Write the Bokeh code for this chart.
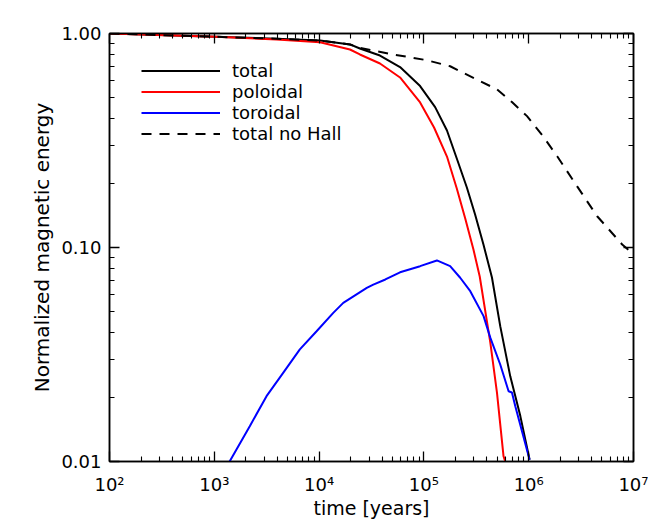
from bokeh.plotting import figure
from bokeh.models import (Range1d, FixedTicker, LogAxis, Legend, LegendItem,
                          PrintfTickFormatter)
from bokeh.embed import file_html
from bokeh.resources import INLINE

# ---- data ----
t_total = [1e2, 1.03e3, 3.93e3, 1.02e4, 1.97e4, 2.45e4, 3.81e4, 5.92e4, 9.2e4,
           1.28e5, 1.66e5, 2.06e5, 2.57e5, 3.08e5, 3.70e5, 4.46e5, 5.35e5,
           6.67e5, 8.32e5, 1.02e6]
e_total = [1.0, 0.965, 0.945, 0.927, 0.889, 0.851, 0.789, 0.697, 0.568,
           0.453, 0.352, 0.2605, 0.1907, 0.1426, 0.1033, 0.0724, 0.0429,
           0.0250, 0.0163, 0.0102]

t_pol = [1e2, 1.03e3, 3.93e3, 1.02e4, 1.97e4, 2.45e4, 3.81e4, 5.92e4, 9.2e4,
         1.25e5, 1.66e5, 2.06e5, 2.48e5, 2.97e5, 3.41e5, 4.30e5, 4.98e5,
         5.75e5, 5.97e5]
e_pol = [1.0, 0.965, 0.937, 0.911, 0.842, 0.798, 0.724, 0.623, 0.476,
         0.3636, 0.266, 0.1887, 0.1366, 0.0979, 0.0732, 0.0360, 0.0210,
         0.0106, 0.0100]

t_tor = [1.40e3, 2.18e3, 3.15e3, 4.54e3, 6.55e3, 9.46e3, 1.365e4, 1.70e4,
         2.85e4, 3.29e4, 4.29e4, 5.92e4, 6.37e4, 9.2e4, 1.33e5, 1.78e5,
         2.22e5, 2.77e5, 3.71e5, 4.30e5, 5.35e5, 6.43e5, 6.92e5, 7.45e5,
         1.02e6]
e_tor = [0.0100, 0.01462, 0.0202, 0.02597, 0.0334, 0.0406, 0.0495, 0.0551,
         0.0648, 0.0671, 0.0709, 0.0766, 0.0775, 0.0818, 0.0870, 0.0818,
         0.0722, 0.0625, 0.0478, 0.0379, 0.0284, 0.0213, 0.0210, 0.0181,
         0.0102]

t_nohall = [1e2, 1.03e3, 3.93e3, 1.02e4, 1.97e4, 2.45e4, 5.11e4, 1.07e5,
            1.78e5, 3.44e5, 4.98e5, 6.92e5, 9.64e5, 1.35e6, 1.87e6, 2.90e6,
            4.50e6, 7.80e6, 1e7]
e_nohall = [1.0, 0.965, 0.945, 0.927, 0.889, 0.857, 0.798, 0.750,
            0.703, 0.599, 0.548, 0.478, 0.411, 0.334, 0.267, 0.193,
            0.140, 0.1033, 0.0932]

x_major = [1e2, 1e3, 1e4, 1e5, 1e6, 1e7]
x_labels = ["10²", "10³", "10⁴", "10⁵", "10⁶", "10⁷"]
y_major = [0.01, 0.1, 1.0]

x_minor = [m * d for d in x_major[:-1] for m in range(2, 10)]
y_minor = [m * d for d in y_major[:-1] for m in range(2, 10)]

FONT = "DejaVu Sans"
FS = "18px"

p = figure(width=648, height=524, x_axis_type="log", y_axis_type="log",
           x_range=Range1d(1e2, 1e7), y_range=Range1d(0.01, 1.0),
           output_backend="svg", toolbar_location=None,
           min_border_left=109, min_border_right=15, min_border_top=33,
           min_border_bottom=63)
p.background_fill_color = "white"
p.border_fill_color = "white"
p.xgrid.visible = False
p.ygrid.visible = False
p.outline_line_color = "black"
p.outline_line_width = 1.5


def style(ax, show_labels):
    ax.axis_line_color = "black"
    ax.axis_line_width = 1.5
    ax.major_tick_in = 10
    ax.major_tick_out = 0
    ax.minor_tick_in = 5
    ax.minor_tick_out = 0
    ax.major_tick_line_width = 1.3
    ax.minor_tick_line_width = 1.1
    ax.major_label_text_font = FONT
    ax.major_label_text_color = "black"
    ax.axis_label_text_font = FONT
    ax.axis_label_text_font_style = "normal"
    ax.axis_label_text_color = "black"
    if show_labels:
        ax.major_label_text_font_size = FS
    else:
        ax.major_label_text_font_size = "2px"
        ax.major_label_text_alpha = 0
        ax.major_label_standoff = 0


xa = p.xaxis[0]
xa.ticker = FixedTicker(ticks=x_major, minor_ticks=x_minor)
xa.major_label_overrides = {int(v): s for v, s in zip(x_major, x_labels)}
xa.axis_label = "time [years]"
style(xa, True)
xa.major_label_standoff = 12
xa.axis_label_standoff = -1
xa.axis_label_text_font_size = "19px"

ya = p.yaxis[0]
ya.ticker = FixedTicker(ticks=y_major, minor_ticks=y_minor)
ya.formatter = PrintfTickFormatter(format="%.2f")
ya.axis_label = "Normalized magnetic energy"
style(ya, True)
ya.major_label_standoff = 8
ya.axis_label_standoff = 4
ya.axis_label_text_font_size = "20px"

top = LogAxis(ticker=FixedTicker(ticks=x_major, minor_ticks=x_minor))
style(top, False)
p.add_layout(top, "above")
right = LogAxis(ticker=FixedTicker(ticks=y_major, minor_ticks=y_minor))
style(right, False)
p.add_layout(right, "right")

r_tot = p.line(t_total, e_total, line_color="black", line_width=2)
r_pol = p.line(t_pol, e_pol, line_color="#ff0000", line_width=2)
r_tor = p.line(t_tor, e_tor, line_color="#0000ff", line_width=2)
r_nh = p.line(t_nohall, e_nohall, line_color="black", line_width=2,
              line_dash="10 8")

legend = Legend(items=[LegendItem(label="total", renderers=[r_tot]),
                       LegendItem(label="poloidal", renderers=[r_pol]),
                       LegendItem(label="toroidal", renderers=[r_tor]),
                       LegendItem(label="total no Hall", renderers=[r_nh])],
                location=(32, 317), orientation="vertical",
                glyph_width=79, glyph_height=21, label_height=21, spacing=0,
                label_standoff=12, padding=0, margin=0,
                border_line_alpha=0, background_fill_alpha=0,
                label_text_font=FONT, label_text_font_size=FS,
                label_text_color="black")
p.add_layout(legend, "center")

open("out.html", "w").write(file_html(p, INLINE))
